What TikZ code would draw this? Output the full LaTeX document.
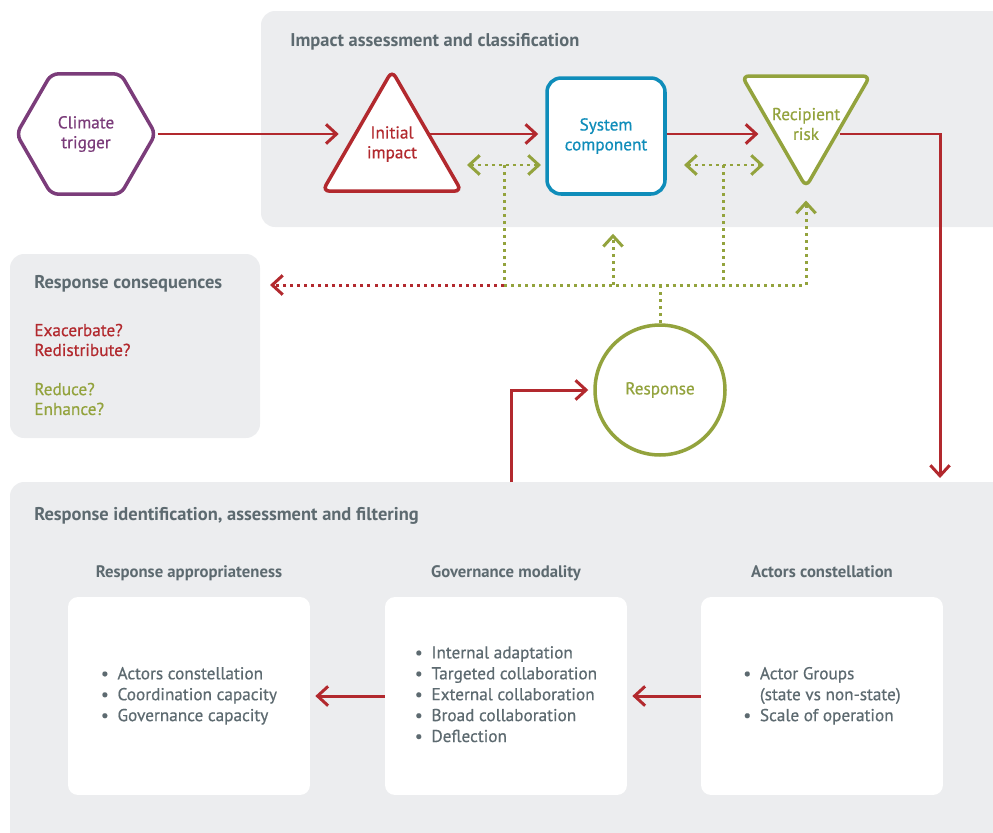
\documentclass[tikz,border=0pt]{standalone}
\usepackage{fontspec}
\setmainfont{PT Sans}
\newfontfamily\medfont{PT Sans}[FakeBold=0.6]
\usetikzlibrary{arrows.meta, positioning, shapes.geometric}
\definecolor{cred}{HTML}{B2292E}
\definecolor{cpurple}{HTML}{7B3C7A}
\definecolor{cblue}{HTML}{0F8DBA}
\definecolor{cgreen}{HTML}{93A33D}
\definecolor{cgrey}{HTML}{5D6A70}
\definecolor{cpanel}{HTML}{ECEDEF}
\tikzset{
    %Define standard arrow tip
    >={Straight Barb[length=6pt,width=11pt]},
}

\begin{document}
\begin{tikzpicture}[x=0.02cm, y=-0.02cm,
    panel/.style = {fill=cpanel, rounded corners=0.28cm},
    title/.style = {anchor=west, inner sep=0pt, text=cgrey, font=\fontsize{10.5}{12}\selectfont\bfseries},
    sub/.style = {text=cgrey, text height=1.6ex, text depth=0.4ex, font=\fontsize{9.5}{11}\selectfont\bfseries},
    shp/.style = {draw, fill=white, line width=2pt, inner sep=0pt},
    lbl/.style = {align=center, font=\fontsize{9.8}{11.3}\selectfont\medfont},
    flow/.style = {draw=cred, line width=1.7pt, ->},
    gdot/.style = {draw=cgreen, line width=1.7pt, dash pattern=on 1.7pt off 2.3pt},
    rdot/.style = {gdot, draw=cred},
    card/.style = {fill=white, rounded corners=0.2cm, minimum width=4.84cm,
                   minimum height=3.96cm, text=cgrey, font=\fontsize{9.8}{11.9}\selectfont\medfont},
  ]
  \clip (0,0) rectangle (993,832);
  % grey panels
  \fill[panel] (261,11) rectangle (1020,227);
  \fill[panel] (10,254) rectangle (260,438);
  \fill[panel] (10,482) rectangle (1020,860);
  \node[title] (impact-title) at (290,42) {Impact assessment and classification};
  \node[title] (conseq-title) at (34,284) {Response consequences};
  \node[title] (ident-title) at (34,516) {Response identification, assessment and filtering};

  % impact chain
  \node[shp, draw=cpurple, text=cpurple, lbl, regular polygon, regular polygon sides=6,
        minimum size=2.78cm, rounded corners=4pt] (trigger) at (86,134) {Climate\\trigger};
  \node[shp, draw=cred, regular polygon, regular polygon sides=3,
        minimum size=3.21cm, rounded corners=4pt] (impact) at (392,151) {};
  \node[lbl, text=cred] (impact-lbl) at (392,144) {Initial\\impact};
  \node[shp, draw=cblue, text=cblue, lbl, rounded corners=0.28cm,
        minimum width=2.36cm, minimum height=2.32cm] (system) at (606,136) {System\\component};
  \node[shp, draw=cgreen, regular polygon, regular polygon sides=3, shape border rotate=180,
        minimum size=2.96cm, rounded corners=4pt] (risk) at (806,113) {};
  \node[lbl, text=cgreen] (risk-lbl) at (806,124) {Recipient\\risk};
  \node[shp, draw=cgreen, text=cgreen, lbl, circle, minimum size=2.6cm] (response) at (660,390) {Response};

  \coordinate (drop) at (940,478);
  \coordinate (loop) at (511,482);
  \coordinate (hub) at (660,285);
  \coordinate (pairA) at (504,165);
  \coordinate (pairB) at (723,165);
  \coordinate (back) at (270,285);
  \coordinate (lift) at ([xshift=0.14cm,yshift=-0.76cm]system.south);

  \draw[flow] (trigger.east) -- ([xshift=-0.34cm]trigger.east -| impact.side 1);
  \draw[flow] (impact.side 3 |- trigger.east) -- ([xshift=-0.14cm]trigger.east -| system.west);
  \draw[flow] (system.east |- trigger.east) -- ([xshift=-0.28cm]trigger.east -| risk.side 3);
  \draw[flow] (risk.side 1 |- trigger.east) -| (drop);
  \draw[flow] (loop) |- ([xshift=-0.1cm]response.west);

  % feedback of the response
  \draw[gdot, <->] ([xshift=-0.74cm]pairA) -- ([xshift=0.74cm]pairA);
  \draw[gdot, <->] ([xshift=-0.78cm]pairB) -- ([xshift=0.82cm]pairB);
  \draw[gdot] (pairA) -- (pairA |- hub);
  \draw[gdot] (pairB) -- (pairB |- hub);
  \draw[gdot] (pairA |- hub) -- (hub -| risk.corner 1);
  \draw[gdot, ->] (hub -| risk.corner 1) -- ([yshift=-0.2cm]risk.corner 1);
  \draw[gdot, ->] (hub -| lift) -- (lift);
  \draw[gdot] (response) -- (hub);
  \draw[rdot, ->] (pairA |- hub) -- (back);

  \node[lbl, anchor=west, inner sep=0pt, align=left, text=cred] (worse) at (34,340) {Exacerbate?\\Redistribute?};
  \node[lbl, anchor=west, inner sep=0pt, align=left, text=cgreen] (better) at (34,399) {Reduce?\\Enhance?};

  % filtering steps
  \node[card] (approp) at (189,696) {\begin{tabular}{@{}l@{\hspace{5pt}}l@{}}
      \textbullet & Actors constellation\\
      \textbullet & Coordination capacity\\
      \textbullet & Governance capacity
    \end{tabular}};
  \node[card] (govern) at (506,696) {\begin{tabular}{@{}l@{\hspace{5pt}}l@{}}
      \textbullet & Internal adaptation\\
      \textbullet & Targeted collaboration\\
      \textbullet & External collaboration\\
      \textbullet & Broad collaboration\\
      \textbullet & Deflection
    \end{tabular}};
  \node[card] (actors) at (822,696) {\begin{tabular}{@{}l@{\hspace{5pt}}l@{}}
      \textbullet & Actor Groups\\
                  & (state vs non-state)\\
      \textbullet & Scale of operation
    \end{tabular}};
  \node[sub, above=0.18cm of approp] (approp-title) {Response appropriateness};
  \node[sub, above=0.18cm of govern] (govern-title) {Governance modality};
  \node[sub, above=0.18cm of actors] (actors-title) {Actors constellation};
  \draw[flow, shorten >=0.1cm] (govern) -- (approp);
  \draw[flow, shorten >=0.1cm] (actors) -- (govern);

\end{tikzpicture}
\end{document}
